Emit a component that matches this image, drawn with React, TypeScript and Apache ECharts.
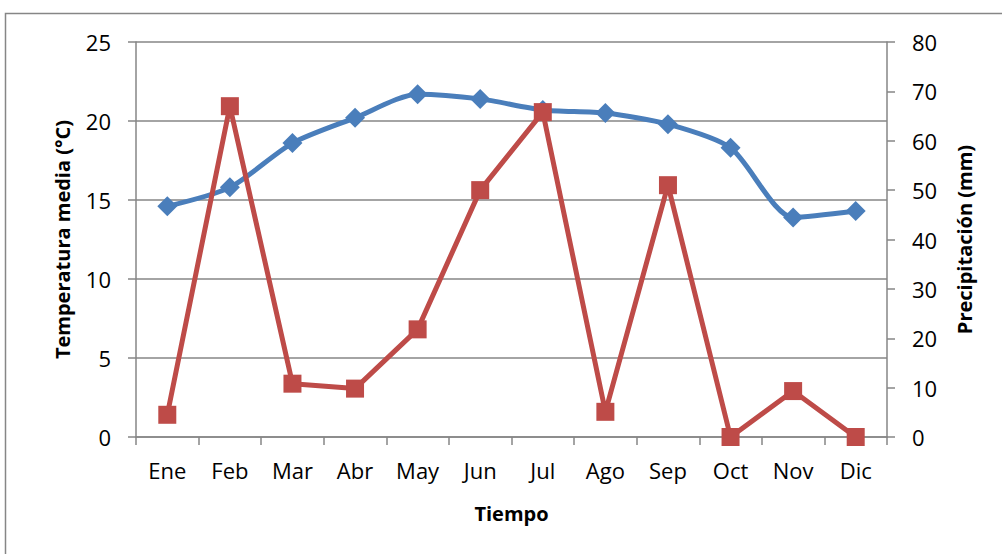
import React, { useEffect, useRef } from "react";
import * as echarts from "echarts";

const months = ["Ene", "Feb", "Mar", "Abr", "May", "Jun", "Jul", "Ago", "Sep", "Oct", "Nov", "Dic"];
const temperatura = [14.6, 15.8, 18.6, 20.2, 21.7, 21.4, 20.7, 20.5, 19.8, 18.3, 13.9, 14.3];
const precipitacion = [4.5, 67, 10.8, 9.8, 21.8, 50, 65.8, 5.1, 51, 0, 9.3, 0];

const FONT = "'Open Sans', 'Noto Sans', sans-serif";

export default function App() {
  const ref = useRef<HTMLDivElement>(null);
  useEffect(() => {
    const chart = echarts.init(ref.current!, undefined, { renderer: "svg" });
    const axisLine = { show: true, lineStyle: { color: "#868686", width: 1.5 } };
    const axisTick = { show: true, length: 8, lineStyle: { color: "#868686", width: 1.5 } };
    const labelStyle = { color: "#000", fontSize: 22, fontFamily: FONT };
    const nameStyle = { color: "#000", fontSize: 20, fontWeight: "bold", fontFamily: FONT };
    chart.setOption({
      animation: false,
      backgroundColor: "#ffffff",
      graphic: [
        {
          type: "rect",
          shape: { x: 5.5, y: 13.5, width: 1000, height: 545 },
          style: { fill: "none", stroke: "#868686", lineWidth: 1.5 },
          silent: true,
        },
      ],
      grid: { left: 136, right: 115, top: 42, bottom: 117 },
      xAxis: {
        type: "category",
        data: months,
        boundaryGap: true,
        axisLine,
        axisTick: { ...axisTick, interval: 0 },
        axisLabel: { ...labelStyle, margin: 22 },
        name: "Tiempo",
        nameLocation: "middle",
        nameGap: 66,
        nameTextStyle: nameStyle,
      },
      yAxis: [
        {
          type: "value",
          min: 0,
          max: 25,
          interval: 5,
          position: "left",
          axisLine,
          axisTick,
          axisLabel: { ...labelStyle, margin: 25 },
          splitLine: { show: true, lineStyle: { color: "#868686", width: 1.5 } },
          name: "Temperatura media (°C)",
          nameLocation: "middle",
          nameGap: 64,
          nameTextStyle: nameStyle,
        },
        {
          type: "value",
          min: 0,
          max: 80,
          interval: 10,
          position: "right",
          axisLine,
          axisTick,
          axisLabel: { ...labelStyle, margin: 25 },
          splitLine: { show: false },
          name: "Precipitación (mm)",
          nameLocation: "middle",
          nameGap: 67,
          nameRotate: 90,
          nameTextStyle: nameStyle,
        },
      ],
      series: [
        {
          name: "Temperatura",
          type: "line",
          yAxisIndex: 0,
          data: temperatura,
          smooth: 0.25,
          symbol: "diamond",
          symbolSize: 20,
          lineStyle: { color: "#4A7EBB", width: 5 },
          itemStyle: { color: "#4A7EBB" },
          z: 2,
        },
        {
          name: "Precipitación",
          type: "line",
          yAxisIndex: 1,
          data: precipitacion,
          symbol: "rect",
          symbolSize: 18,
          lineStyle: { color: "#BE4B48", width: 5 },
          itemStyle: { color: "#BE4B48" },
          z: 3,
        },
      ],
    });
    return () => chart.dispose();
  }, []);
  return (
    <div
      ref={ref}
      style={{ position: "absolute", left: 0, top: 0, width: 1002, height: 554 }}
    />
  );
}
